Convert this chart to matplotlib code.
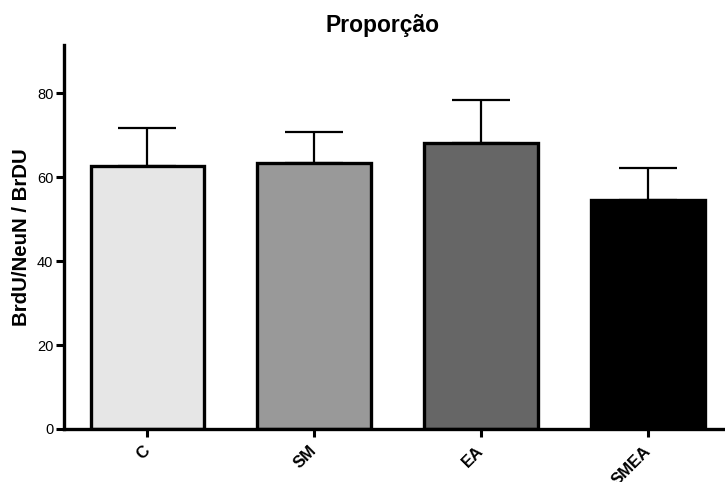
import numpy as np
import matplotlib
matplotlib.use("Agg")
from matplotlib import pyplot as plt

# Data
groups = ["C", "SM", "EA", "SMEA"]
means = [62.8, 63.4, 68.3, 54.5]
sem = [9.0, 7.5, 10.1, 7.7]
colors = ["#e6e6e6", "#999999", "#666666", "#000000"]

plt.rcParams['font.family'] = ['Liberation Sans', 'DejaVu Sans']

fig = plt.figure(figsize=(7.25, 4.82), dpi=100)
ax = fig.add_axes([0.088, 0.110, 0.912, 0.797])

x = np.arange(len(groups))
ax.bar(x, means, width=0.68, color=colors, edgecolor="black", linewidth=2.4, zorder=2)
ax.errorbar(x, means, yerr=[np.zeros(len(sem)), sem], fmt="none", ecolor="black",
            elinewidth=1.6, capsize=21, capthick=1.6, zorder=1)

ax.set_xlim(-0.5, 3.46)
ax.set_ylim(0, 91.6)
ax.set_yticks([0, 20, 40, 60, 80])
ax.set_xticks(x)
ax.set_xticklabels(groups, rotation=45, ha="right", va="center", rotation_mode="anchor",
                   fontsize=12, fontweight="bold")
ax.tick_params(axis="y", labelsize=10.5, width=2.2, length=6, pad=1.5)
ax.tick_params(axis="x", width=2.2, length=6, pad=8)

for s in ["top", "right"]:
    ax.spines[s].set_visible(False)
for s in ["left", "bottom"]:
    ax.spines[s].set_linewidth(2.4)

ax.set_ylabel("BrdU/NeuN / BrDU", fontsize=14.7, fontweight="bold", labelpad=4)
fig.text(0.527, 0.948, "Proporção", fontsize=16.5, fontweight="bold", ha="center", va="center")

plt.savefig("out.png", dpi=100)
